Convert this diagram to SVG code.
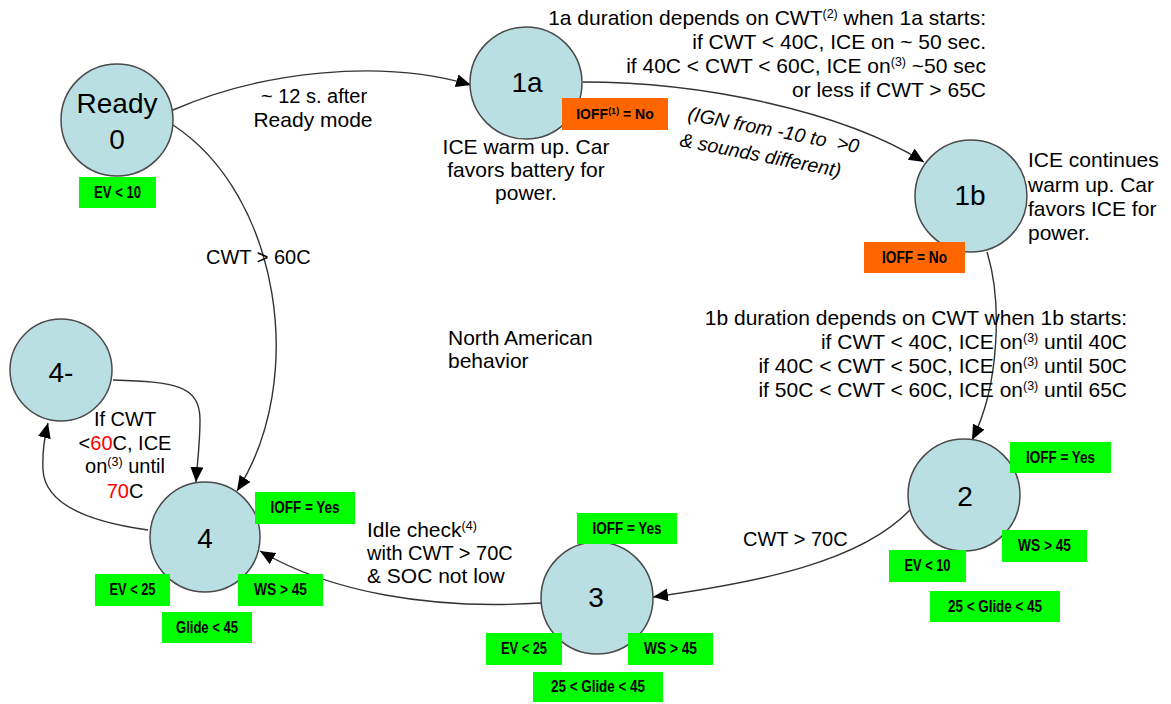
<svg xmlns="http://www.w3.org/2000/svg" width="1171" height="704" viewBox="0 0 1171 704">
<style>
.node{fill:#b9dfe3;stroke:#4a4a4a;stroke-width:1.5}
.nl{font-family:"Liberation Sans",Arial,sans-serif;font-size:28px;fill:#000;text-anchor:middle}
.t{font-family:"Liberation Sans",Arial,sans-serif;font-size:21px;fill:#000}
.s{font-size:20px}
.it{font-family:"Liberation Sans",Arial,sans-serif;font-size:19.5px;font-style:italic;fill:#000}
.g{fill:#00ff00}
.o{fill:#ff6600}
.bl{font-family:"Liberation Sans Narrow","Liberation Sans",Arial,sans-serif;font-size:16px;font-weight:bold;fill:#000;text-anchor:middle}
.e{fill:none;stroke:#333;stroke-width:1.4}
.sup{font-size:12.5px}
.red{fill:#ff0000}
</style>
<defs>
<marker id="arr" markerUnits="userSpaceOnUse" markerWidth="16" markerHeight="14" refX="15" refY="6.5" orient="auto">
<path d="M0,0 L15,6.5 L0,13 z" fill="#000"/>
</marker>
</defs>
<rect width="1171" height="704" fill="#fff"/>

<g id="connectors">
<path class="e" marker-end="url(#arr)" d="M173,110 C 260,72 380,58 471,85"/>
<path class="e" marker-end="url(#arr)" d="M173,125 C 280,195 308,380 237,491"/>
<path class="e" marker-end="url(#arr)" d="M583,82 C 700,82 840,110 924,162"/>
<path class="e" marker-end="url(#arr)" d="M987,252 C 1002,300 1000,385 972,440"/>
<path class="e" marker-end="url(#arr)" d="M910,510 C 860,562 760,582 653,597"/>
<path class="e" marker-end="url(#arr)" d="M541,603 C 430,610 330,592 260,551"/>
<path class="e" marker-end="url(#arr)" d="M113,380 C 175,382 200,385 200,420 C 200,445 197,465 196,482"/>
<path class="e" marker-end="url(#arr)" d="M148,530 C 90,522 45,505 43,470 C 42,450 45,435 48,423"/>
</g>

<g id="node-ready">
<circle class="node" cx="117" cy="120" r="56"/>
<text class="nl" x="117" y="113">Ready</text>
<text class="nl" x="117" y="149">0</text>
<rect class="g" x="79" y="177" width="77" height="31"/>
<text class="bl" x="117.5" y="198" textLength="47" lengthAdjust="spacingAndGlyphs">EV &lt; 10</text>
</g>

<g id="node-1a">
<circle class="node" cx="526" cy="83" r="56"/>
<text class="nl" x="527" y="92">1a</text>
<rect class="o" x="562" y="98" width="106" height="32"/>
<text class="bl" x="615" y="119" style="font-size:14px">IOFF<tspan font-size="9" dy="-5">(1)</tspan><tspan dy="5"> = No</tspan></text>
<text class="t" text-anchor="middle" x="526" y="154">ICE warm up. Car</text>
<text class="t" text-anchor="middle" x="526" y="177">favors battery for</text>
<text class="t" text-anchor="middle" x="526" y="200">power.</text>
</g>

<g id="node-1b">
<circle class="node" cx="971" cy="196" r="56"/>
<text class="nl" x="970" y="205">1b</text>
<rect class="o" x="864" y="242" width="101" height="31"/>
<text class="bl" x="914.5" y="263" textLength="65" lengthAdjust="spacingAndGlyphs">IOFF = No</text>
<text class="t" x="1028" y="167">ICE continues</text>
<text class="t" x="1028" y="192">warm up. Car</text>
<text class="t" x="1028" y="216">favors ICE for</text>
<text class="t" x="1028" y="240">power.</text>
</g>

<g id="node-2">
<circle class="node" cx="964" cy="495" r="56"/>
<text class="nl" x="965" y="506">2</text>
<rect class="g" x="1010" y="442" width="101" height="31"/>
<text class="bl" x="1060.5" y="463" textLength="69" lengthAdjust="spacingAndGlyphs">IOFF = Yes</text>
<rect class="g" x="1002" y="530" width="85" height="32"/>
<text class="bl" x="1044.5" y="551" textLength="53" lengthAdjust="spacingAndGlyphs">WS &gt; 45</text>
<rect class="g" x="889" y="550" width="77" height="32"/>
<text class="bl" x="927.5" y="571" textLength="46" lengthAdjust="spacingAndGlyphs">EV &lt; 10</text>
<rect class="g" x="930" y="591" width="130" height="31"/>
<text class="bl" x="995" y="612" textLength="94" lengthAdjust="spacingAndGlyphs">25 &lt; Glide &lt; 45</text>
</g>

<g id="node-3">
<circle class="node" cx="597" cy="598" r="56"/>
<text class="nl" x="596" y="607">3</text>
<rect class="g" x="577" y="513" width="100" height="31"/>
<text class="bl" x="627" y="534" textLength="69" lengthAdjust="spacingAndGlyphs">IOFF = Yes</text>
<rect class="g" x="486" y="633" width="76" height="32"/>
<text class="bl" x="524" y="654" textLength="46" lengthAdjust="spacingAndGlyphs">EV &lt; 25</text>
<rect class="g" x="628" y="633" width="85" height="32"/>
<text class="bl" x="670.5" y="654" textLength="53" lengthAdjust="spacingAndGlyphs">WS &gt; 45</text>
<rect class="g" x="533" y="672" width="130" height="30"/>
<text class="bl" x="598" y="692" textLength="94" lengthAdjust="spacingAndGlyphs">25 &lt; Glide &lt; 45</text>
</g>

<g id="node-4">
<circle class="node" cx="205" cy="537" r="55"/>
<text class="nl" x="205" y="548">4</text>
<rect class="g" x="255" y="492" width="100" height="32"/>
<text class="bl" x="305" y="513" textLength="69" lengthAdjust="spacingAndGlyphs">IOFF = Yes</text>
<rect class="g" x="95" y="574" width="75" height="32"/>
<text class="bl" x="132.5" y="595" textLength="46" lengthAdjust="spacingAndGlyphs">EV &lt; 25</text>
<rect class="g" x="238" y="574" width="85" height="32"/>
<text class="bl" x="280.5" y="595" textLength="53" lengthAdjust="spacingAndGlyphs">WS &gt; 45</text>
<rect class="g" x="162" y="612" width="90" height="31"/>
<text class="bl" x="207" y="633" textLength="62" lengthAdjust="spacingAndGlyphs">Glide &lt; 45</text>
</g>

<g id="node-4minus">
<circle class="node" cx="61" cy="370" r="51"/>
<text class="nl" x="61" y="382">4-</text>
</g>

<g id="labels">
<text class="t s" text-anchor="middle" x="314" y="103">~ 12 s. after</text>
<text class="t" text-anchor="middle" x="313" y="127">Ready mode</text>
<text class="t s" x="206" y="264">CWT &gt; 60C</text>

<text class="t" text-anchor="end" x="986" y="25">1a duration depends on CWT<tspan class="sup" dy="-7">(2)</tspan><tspan dy="7"> when 1a starts:</tspan></text>
<text class="t" text-anchor="end" x="986" y="49">if CWT &lt; 40C, ICE on ~ 50 sec.</text>
<text class="t" text-anchor="end" x="986" y="73">if 40C &lt; CWT &lt; 60C, ICE on<tspan class="sup" dy="-7">(3)</tspan><tspan dy="7"> ~50 sec</tspan></text>
<text class="t" text-anchor="end" x="986" y="97">or less if CWT &gt; 65C</text>

<g transform="translate(687,120) rotate(11)">
<text class="it" x="0" y="0">(IGN from -10 to&#160; &gt;0</text>
<text class="it" x="-3" y="27">&amp; sounds different)</text>
</g>

<text class="t" text-anchor="end" x="1127" y="325">1b duration depends on CWT when 1b starts:</text>
<text class="t" text-anchor="end" x="1127" y="349">if CWT &lt; 40C, ICE on<tspan class="sup" dy="-7">(3)</tspan><tspan dy="7"> until 40C</tspan></text>
<text class="t" text-anchor="end" x="1127" y="373">if 40C &lt; CWT &lt; 50C, ICE on<tspan class="sup" dy="-7">(3)</tspan><tspan dy="7"> until 50C</tspan></text>
<text class="t" text-anchor="end" x="1127" y="397">if 50C &lt; CWT &lt; 60C, ICE on<tspan class="sup" dy="-7">(3)</tspan><tspan dy="7"> until 65C</tspan></text>

<text class="t" x="448" y="345">North American</text>
<text class="t" x="448" y="368">behavior</text>

<text class="t s" x="743" y="546">CWT &gt; 70C</text>

<text class="t" x="367" y="537">Idle check<tspan class="sup" dy="-7">(4)</tspan></text>
<text class="t s" x="367" y="560">with CWT &gt; 70C</text>
<text class="t" x="367" y="583">&amp; SOC not low</text>

<text class="t s" text-anchor="middle" x="125" y="426">If CWT</text>
<text class="t s" text-anchor="middle" x="125" y="450">&lt;<tspan class="red">60</tspan>C, ICE</text>
<text class="t s" text-anchor="middle" x="125" y="473">on<tspan class="sup" dy="-7">(3)</tspan><tspan dy="7"> until</tspan></text>
<text class="t s" text-anchor="middle" x="125" y="498"><tspan class="red">70</tspan>C</text>
</g>
</svg>
